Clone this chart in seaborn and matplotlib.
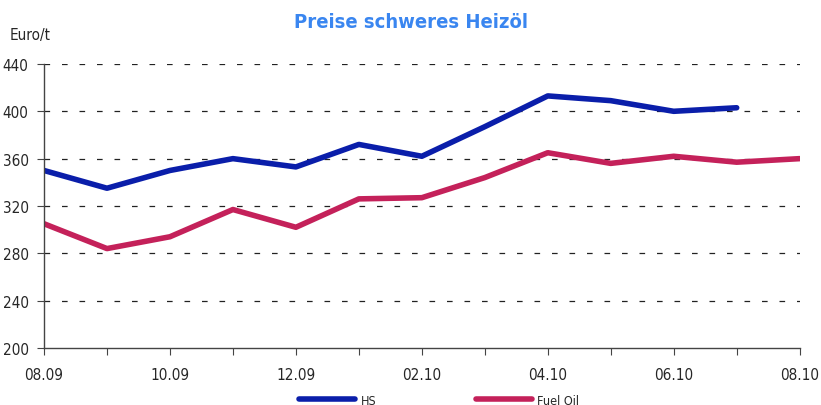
import matplotlib
matplotlib.use("Agg")
import matplotlib.pyplot as plt
import seaborn as sns
import pandas as pd
import numpy as np
from matplotlib.lines import Line2D

months = ["08.09", "09.09", "10.09", "11.09", "12.09", "01.10", "02.10",
          "03.10", "04.10", "05.10", "06.10", "07.10", "08.10"]
hs = [350, 335, 350, 360, 353, 372, 362, 387, 413, 409, 400, 403, np.nan]
fuel_oil = [305, 284, 294, 317, 302, 326, 327, 344, 365, 356, 362, 357, 360]
tick_labels = ["08.09", "10.09", "12.09", "02.10", "04.10", "06.10", "08.10"]
y_ticks = [200, 240, 280, 320, 360, 400, 440]

sns.set_theme(style="white")
plt.rcParams['font.family'] = ['DejaVu Sans']
plt.rcParams['font.stretch'] = 'condensed'

df = pd.DataFrame({
    "x": list(range(len(months))) * 2,
    "value": hs + fuel_oil,
    "series": ["HS"] * len(months) + ["Fuel Oil"] * len(months),
})

fig = plt.figure(figsize=(8.21, 4.06), dpi=100)
ax = fig.add_axes([0.0536, 0.1404, 0.9204, 0.6996])

palette = {"HS": "#0A1EAA", "Fuel Oil": "#C4215A"}
sns.lineplot(data=df, x="x", y="value", hue="series", palette=palette,
             linewidth=4, ax=ax, legend=False, sort=False)

ax.set_xlim(0, len(months) - 1)
ax.set_ylim(200, 440)
ax.set_yticks(y_ticks)
ax.set_yticklabels([str(v) for v in y_ticks], fontsize=11, stretch='condensed')
ax.set_xticks(range(len(months)))
ax.set_xticklabels([m if m in tick_labels else "" for m in months], fontsize=11, stretch='condensed')
ax.tick_params(axis="x", direction="out", length=5, width=0.8, color="#444444", pad=9, bottom=True)
ax.tick_params(axis="y", direction="out", length=5, width=0.8, color="#444444", left=True, pad=6)
ax.set_xlabel("")
ax.set_ylabel("")
for v in y_ticks[1:]:
    ax.axhline(v, color="#222222", linestyle=(0, (4.5, 9.5)), linewidth=0.9, zorder=0)
for s in ["top", "right"]:
    ax.spines[s].set_visible(False)
for s in ["left", "bottom"]:
    ax.spines[s].set_color("#444444")
    ax.spines[s].set_linewidth(1)
ax.grid(False)

fig.text(0.5, 0.945, "Preise schweres Heizöl", ha="center", va="center",
         fontsize=14.5, fontweight="bold", color="#3A86F0", stretch='condensed')
fig.text(0.012, 0.912, "Euro/t", ha="left", va="center", fontsize=11, stretch='condensed')

handles = [Line2D([0], [0], color=palette["HS"], linewidth=4),
           Line2D([0], [0], color=palette["Fuel Oil"], linewidth=4)]
fig.legend(handles, ["HS", "Fuel Oil"], loc="center", bbox_to_anchor=(0.535, 0.012),
           ncol=2, frameon=False, prop={'size': 9, 'stretch': 'condensed'},
           handlelength=4.5, columnspacing=8, handletextpad=0.4)

fig.savefig("out.png", dpi=100)
